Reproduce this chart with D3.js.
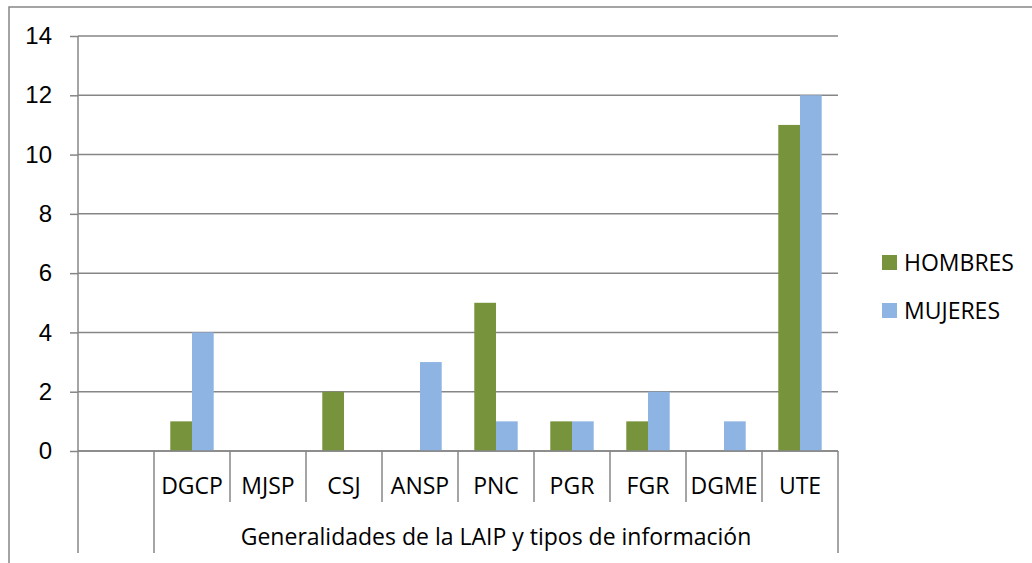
<!DOCTYPE html>
<html>
<head>
<meta charset="utf-8">
<script src="https://cdn.jsdelivr.net/npm/d3@7"></script>
<style>
  body { margin: 0; background: #fff; }
  svg { display: block; font-family: "Open Sans", sans-serif; }
</style>
</head>
<body>
<svg id="chart" width="1032" height="563"></svg>
<script>
// DATA
const categories = ["", "DGCP", "MJSP", "CSJ", "ANSP", "PNC", "PGR", "FGR", "DGME", "UTE"];
const hombres = [null, 1, 0, 2, 0, 5, 1, 1, 0, 11];
const mujeres = [null, 4, 0, 0, 3, 1, 1, 2, 1, 12];
const seriesNames = ["HOMBRES", "MUJERES"];
const seriesColors = ["#77933C", "#8EB4E3"];
const yTicks = [0, 2, 4, 6, 8, 10, 12, 14];
const groupLabel = "Generalidades de la LAIP y tipos de información";

// SETUP
let svg = d3.select("#chart");
let plot = { left: 78, right: 838, top: 36, bottom: 451 };
let axisColor = "#868686";
let fontSize = 23;

// outer chart border
svg.append("rect")
  .attr("x", 9).attr("y", 7)
  .attr("width", 1100).attr("height", 700)
  .attr("fill", "none")
  .attr("stroke", axisColor)
  .attr("stroke-width", 1.5);

let x = d3.scaleBand().domain(categories).range([plot.left, plot.right]).padding(0);
let xSub = d3.scaleBand().domain(seriesNames).range([0, x.bandwidth()])
  .paddingInner(0).paddingOuter(0.75);
let y = d3.scaleLinear().domain([0, 14]).range([plot.bottom, plot.top]);

// gridlines + y axis
let yAxis = svg.append("g")
  .attr("transform", "translate(" + plot.left + ",0)")
  .call(d3.axisLeft(y).tickValues(yTicks).tickSize(8).tickPadding(18).tickFormat(d3.format("d")));
yAxis.select(".domain").remove();
yAxis.selectAll(".tick line").attr("stroke", axisColor).attr("stroke-width", 1.5);
yAxis.selectAll(".tick text").attr("font-size", 24).attr("fill", "#000");

svg.append("g")
  .selectAll("line")
  .data(yTicks)
  .enter().append("line")
  .attr("x1", plot.left).attr("x2", plot.right)
  .attr("y1", d => y(d)).attr("y2", d => y(d))
  .attr("stroke", axisColor).attr("stroke-width", 1.5);

// bars
let rows = categories.map((c, i) => ({ cat: c, values: [hombres[i], mujeres[i]] }));
svg.append("g")
  .selectAll("g")
  .data(rows)
  .enter().append("g")
  .attr("transform", d => "translate(" + x(d.cat) + ",0)")
  .selectAll("rect")
  .data(d => d.values.map((v, j) => ({ name: seriesNames[j], value: v, color: seriesColors[j] })))
  .enter().append("rect")
  .filter(d => d.value)
  .attr("x", d => xSub(d.name))
  .attr("y", d => y(d.value))
  .attr("width", xSub.bandwidth())
  .attr("height", d => y(0) - y(d.value))
  .attr("fill", d => d.color);

// y axis line (extends down through the category rows)
svg.append("line")
  .attr("x1", plot.left).attr("x2", plot.left)
  .attr("y1", plot.top).attr("y2", 553)
  .attr("stroke", axisColor).attr("stroke-width", 1.5);

// x axis line
svg.append("line")
  .attr("x1", plot.left).attr("x2", plot.right)
  .attr("y1", plot.bottom).attr("y2", plot.bottom)
  .attr("stroke", axisColor).attr("stroke-width", 1.5);

// category separators
let bounds = categories.map(c => x(c)).concat([plot.right]).slice(1);
svg.append("g")
  .selectAll("line")
  .data(bounds)
  .enter().append("line")
  .attr("x1", d => d).attr("x2", d => d)
  .attr("y1", plot.bottom)
  .attr("y2", (d, i) => (i === 0 || i === bounds.length - 1) ? 553 : 502)
  .attr("stroke", axisColor).attr("stroke-width", 1.5);

// category labels
svg.append("g")
  .selectAll("text")
  .data(categories.slice(1))
  .enter().append("text")
  .attr("x", d => x(d) + x.bandwidth() / 2)
  .attr("y", 486)
  .attr("dy", "0.35em")
  .attr("text-anchor", "middle")
  .attr("font-size", fontSize)
  .text(d => d);

// group label
svg.append("text")
  .attr("x", (x(categories[1]) + plot.right) / 2)
  .attr("y", 537)
  .attr("dy", "0.35em")
  .attr("text-anchor", "middle")
  .attr("font-size", fontSize)
  .text(groupLabel);

// legend
let legend = svg.append("g")
  .selectAll("g")
  .data(seriesNames)
  .enter().append("g")
  .attr("transform", (d, i) => "translate(882," + (255 + i * 48) + ")");
legend.append("rect")
  .attr("width", 15).attr("height", 15)
  .attr("fill", (d, i) => seriesColors[i]);
legend.append("text")
  .attr("x", 22).attr("y", 8)
  .attr("dy", "0.35em")
  .attr("font-size", fontSize)
  .text(d => d);
</script>
</body>
</html>
